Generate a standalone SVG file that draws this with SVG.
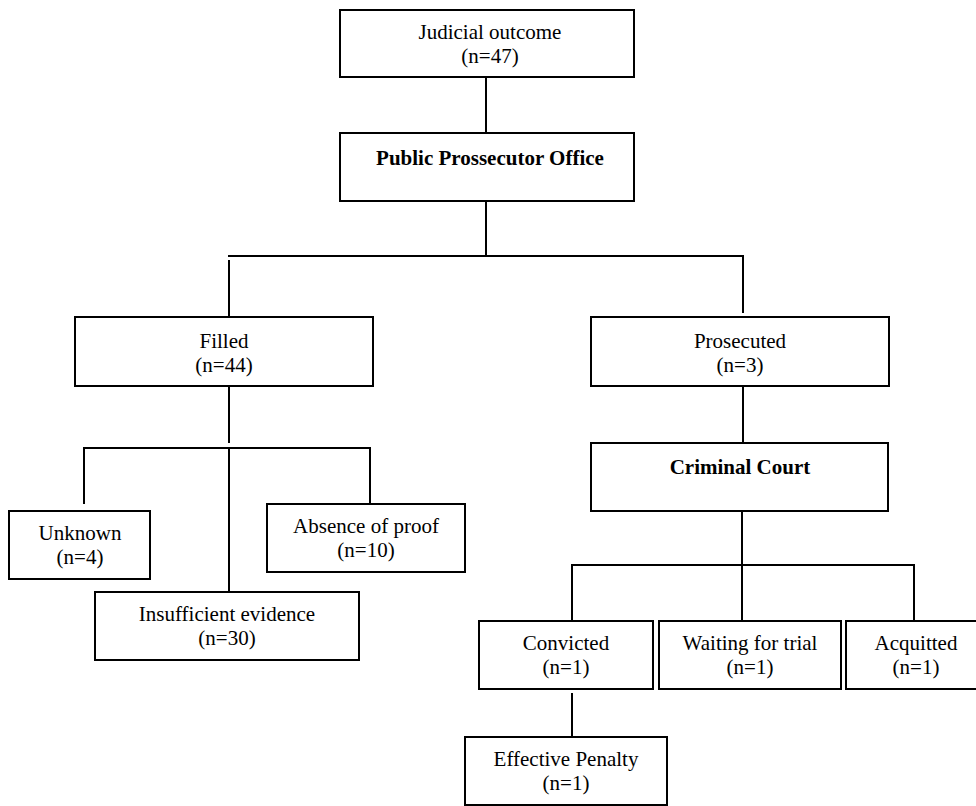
<svg xmlns="http://www.w3.org/2000/svg" width="976" height="806" viewBox="0 0 976 806">
<style>
.box{fill:#fff;stroke:#000;stroke-width:2}
.ln{stroke:#000;stroke-width:2;fill:none}
text{font-family:"Liberation Serif","Times New Roman",serif;font-size:21px;fill:#000;text-anchor:middle}
.b{font-weight:bold}
</style>
<rect width="976" height="806" fill="#fff"/>
<g id="connectors">
<line class="ln" x1="486" y1="77" x2="486" y2="133"/>
<line class="ln" x1="486" y1="201" x2="486" y2="257"/>
<line class="ln" x1="228" y1="256" x2="744" y2="256"/>
<line class="ln" x1="229" y1="260" x2="229" y2="317"/>
<line class="ln" x1="743" y1="256" x2="743" y2="313"/>
<line class="ln" x1="229" y1="386" x2="229" y2="443"/>
<line class="ln" x1="83" y1="448" x2="371" y2="448"/>
<line class="ln" x1="84" y1="448" x2="84" y2="504"/>
<line class="ln" x1="229" y1="448" x2="229" y2="592"/>
<line class="ln" x1="370" y1="448" x2="370" y2="504"/>
<line class="ln" x1="743" y1="386" x2="743" y2="443"/>
<line class="ln" x1="742" y1="511" x2="742" y2="565"/>
<line class="ln" x1="571" y1="565" x2="915" y2="565"/>
<line class="ln" x1="572" y1="565" x2="572" y2="621"/>
<line class="ln" x1="742" y1="565" x2="742" y2="621"/>
<line class="ln" x1="914" y1="565" x2="914" y2="621"/>
<line class="ln" x1="572" y1="693" x2="572" y2="737"/>
</g>
<g id="judicial"><rect class="box" x="340" y="10" width="294" height="67"/><text x="490" y="39">Judicial outcome</text><text x="490" y="63">(n=47)</text></g>
<g id="ppo"><rect class="box" x="340" y="133" width="294" height="68"/><text class="b" x="490" y="165">Public Prossecutor Office</text></g>
<g id="filled"><rect class="box" x="75" y="317" width="298" height="69"/><text x="224" y="348">Filled</text><text x="224" y="372">(n=44)</text></g>
<g id="prosecuted"><rect class="box" x="591" y="317" width="298" height="69"/><text x="740" y="348">Prosecuted</text><text x="740" y="372">(n=3)</text></g>
<g id="unknown"><rect class="box" x="9" y="511" width="141" height="68"/><text x="80" y="540">Unknown</text><text x="80" y="564">(n=4)</text></g>
<g id="absence"><rect class="box" x="267" y="504" width="198" height="68"/><text x="366" y="533">Absence of proof</text><text x="366" y="557">(n=10)</text></g>
<g id="insufficient"><rect class="box" x="95" y="592" width="264" height="68"/><text x="227" y="621">Insufficient evidence</text><text x="227" y="645">(n=30)</text></g>
<g id="court"><rect class="box" x="591" y="443" width="297" height="68"/><text class="b" x="740" y="474">Criminal Court</text></g>
<g id="convicted"><rect class="box" x="479" y="621" width="174" height="68"/><text x="566" y="650">Convicted</text><text x="566" y="674">(n=1)</text></g>
<g id="waiting"><rect class="box" x="659" y="621" width="182" height="68"/><text x="750" y="650">Waiting for trial</text><text x="750" y="674">(n=1)</text></g>
<g id="acquitted"><rect class="box" x="846" y="621" width="140" height="68"/><text x="916" y="650">Acquitted</text><text x="916" y="674">(n=1)</text></g>
<g id="penalty"><rect class="box" x="465" y="737" width="202" height="68"/><text x="566" y="766">Effective Penalty</text><text x="566" y="790">(n=1)</text></g>
</svg>
